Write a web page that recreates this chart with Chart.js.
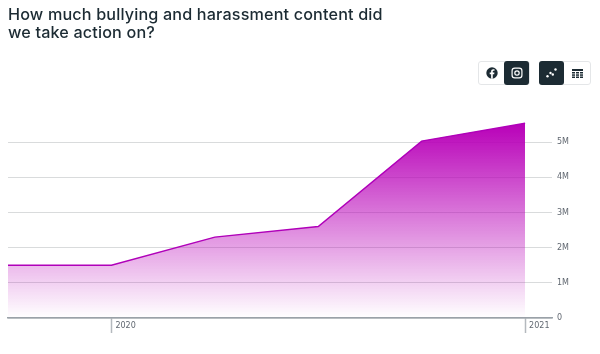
<!DOCTYPE html>
<html>
<head>
<meta charset="utf-8">
<title>Bullying and harassment</title>
<script src="https://cdn.jsdelivr.net/npm/chart.js@4"></script>
<style>
  html, body { margin: 0; padding: 0; background: #fff; overflow: hidden; }
  #wrap { position: relative; width: 600px; height: 354px; }
  #chart { position: absolute; left: 0; top: 0; }
  h1 {
    position: absolute; left: 8px; top: 5px; margin: 0; width: 385px;
    font: 500 16.2px/18px Inter, sans-serif; letter-spacing: 0.15px; color: #1c2b33;
  }
  .group {
    position: absolute; top: 61px; height: 24px; box-sizing: border-box; display: flex;
    border: 1px solid #e4e6e8; border-radius: 3px; background: #fff;
  }
  .btn { width: 25px; height: 22px; display: flex; align-items: center; justify-content: center; border-radius: 3px; }
  .btn.on { background: #1c2b33; height: 24px; margin-top: -1px; }
  .btn svg { display: block; }
</style>
</head>
<body>
<div id="wrap">
  <canvas id="chart" width="600" height="354"></canvas>
  <h1>How much bullying and harassment content did we take action on?</h1>
  <div class="group" style="left:478px;width:52px">
    <div class="btn" style="width:26px"><svg width="12" height="12" viewBox="0 0 11 11"><circle cx="5.5" cy="5.5" r="5.2" fill="#1c2b33"/><path d="M6.2 10.7V6.6h1.3l.2-1.500H6.200v-.9c0-.5.2-.8.8-.8h.8V2.100c-.3 0-.7-.1-1.100-.1-1.200 0-2 .7-2 2v1.100H3.400v1.500h1.300v4.100z" fill="#fff"/></svg></div>
    <div class="btn on"><svg width="12" height="12" viewBox="0 0 11 11" fill="none" stroke="#fff" stroke-width="1.100"><rect x="1" y="1" width="9" height="9" rx="2.500"/><circle cx="5.500" cy="5.500" r="2"/></svg></div>
  </div>
  <div class="group" style="left:539px;width:52px">
    <div class="btn on" style="margin-left:-1px"><svg width="11" height="10" viewBox="0 0 11 10" fill="#fff"><circle cx="1.500" cy="8.300" r="1.200"/><circle cx="4.500" cy="5" r="1.200"/><circle cx="6.800" cy="6.500" r="1.200"/><circle cx="9.500" cy="1.500" r="1.200"/></svg></div>
    <div class="btn" style="width:26px"><svg width="11" height="9" viewBox="0 0 11 9" fill="#1c2b33"><rect width="11" height="2"/><rect y="3" width="3" height="1.500"/><rect x="4" y="3" width="3" height="1.500"/><rect x="8" y="3" width="3" height="1.500"/><rect y="5.300" width="3" height="1.500"/><rect x="4" y="5.300" width="3" height="1.500"/><rect x="8" y="5.300" width="3" height="1.500"/><rect y="7.500" width="3" height="1.500"/><rect x="4" y="7.500" width="3" height="1.500"/><rect x="8" y="7.500" width="3" height="1.500"/></svg></div>
  </div>
</div>
<script>
// quarters, counted from the first point on the left
var quarters = [0, 1, 2, 3, 4, 5];
// millions of pieces of content
var actioned = [1.5, 1.5, 2.3, 2.6, 5.03, 5.54];
var yearTicks = [1, 5];
var yearLabels = ['2020', '2021'];
var valueTicks = [0, 1, 2, 3, 4, 5];

var chart = new Chart(document.getElementById('chart'), {
    type: 'line',
    data: {
        datasets: [{
            data: quarters.map(function(q, i) { return { x: q, y: actioned[i] }; }),
            borderColor: '#b000b9',
            borderWidth: 1.5,
            pointRadius: 0,
            tension: 0,
            fill: 'origin',
            backgroundColor: function(context) {
                var area = context.chart.chartArea;
                if (!area) return 'transparent';
                var yScale = context.chart.scales.y;
                var g = context.chart.ctx.createLinearGradient(0, yScale.getPixelForValue(5.54), 0, yScale.getPixelForValue(0));
                g.addColorStop(0, 'rgba(184,0,184,1)');
                g.addColorStop(1, 'rgba(184,0,184,0)');
                return g;
            }
        }]
    },
    options: {
        animation: false,
        responsive: false,
        layout: { padding: { left: 8, top: 107 } },
        plugins: { legend: { display: false }, tooltip: { enabled: false } },
        scales: {
            x: {
                type: 'linear',
                min: 0,
                max: 5.26,
                afterBuildTicks: function(scale) {
                    scale.ticks = yearTicks.map(function(v) { return { value: v }; });
                },
                afterFit: function(scale) { scale.height = 36; },
                border: { color: '#9aa1a8', width: 1.5 },
                grid: { drawOnChartArea: false, color: '#b4b9be', tickLength: 15, tickWidth: 1.5 },
                ticks: {
                    autoSkip: false,
                    maxRotation: 0,
                    align: 'start',
                    padding: -12,
                    labelOffset: 4,
                    color: '#606770',
                    font: { family: 'DejaVu Sans', size: 8 },
                    callback: function(value) { return yearLabels[yearTicks.indexOf(value)]; }
                }
            },
            y: {
                position: 'right',
                min: 0,
                max: 6,
                afterBuildTicks: function(scale) {
                    scale.ticks = valueTicks.map(function(v) { return { value: v }; });
                },
                afterFit: function(scale) { scale.width = 48; },
                border: { display: false },
                grid: { color: 'rgba(120,125,130,0.28)', drawTicks: false },
                ticks: {
                    padding: 5,
                    color: '#606770',
                    font: { family: 'DejaVu Sans', size: 8 },
                    callback: function(value) { return value === 0 ? '0' : value + 'M'; }
                }
            }
        }
    }
});
</script>
</body>
</html>
